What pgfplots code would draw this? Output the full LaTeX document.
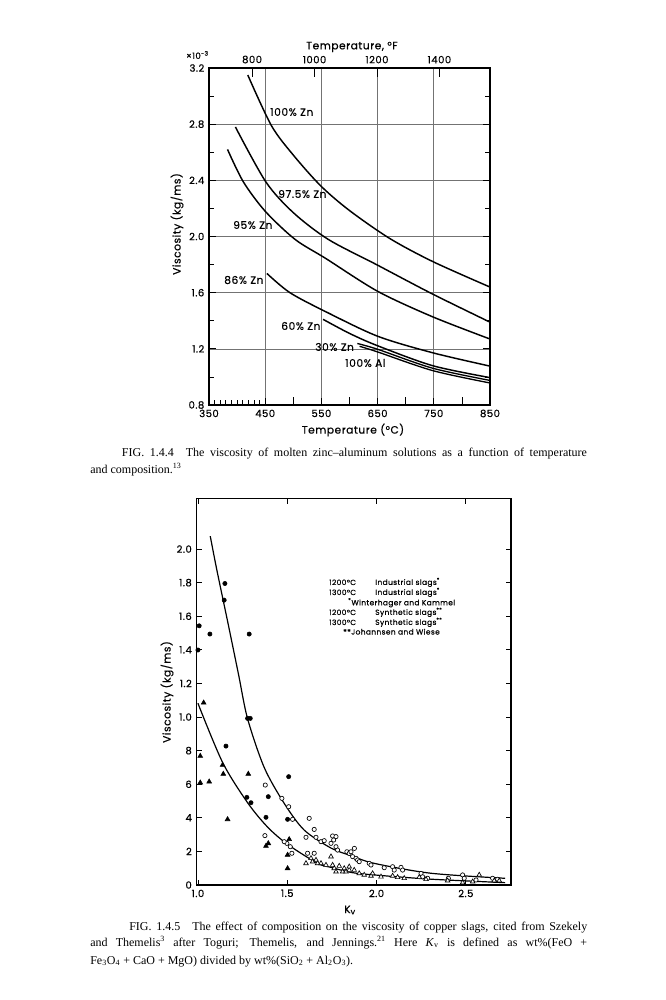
\documentclass[border=0pt]{standalone}
\usepackage{fontspec}
\setmainfont{Liberation Serif}
\newfontfamily\lab[LetterSpace=5, FakeBold=0.5]{Poppins}
\usepackage{pgfplots}
\pgfplotsset{compat=1.18}
\newcommand\tlfont{\lab\fontsize{7.5}{8.5}\selectfont}
\newcommand\clfont{\lab\fontsize{8}{9}\selectfont}
\newcommand\lgfont{\lab\fontsize{5.6}{6.5}\selectfont}
\newcommand\capfont{\fontsize{9}{11}\selectfont}
\begin{document}
\begin{tikzpicture}
\path[use as bounding box, fill=white] (0,0) rectangle (499.5pt,-750pt);

% ---------------- top chart (Celsius) ----------------
\begin{axis}[at={(156.75pt,-303.75pt)}, anchor=south west, scale only axis,
  width=210.75pt, height=252.75pt,
  xmin=350, xmax=850, ymin=0.8, ymax=3.2,
  xtick={350,450,550,650,750,850}, xticklabels={350,450,550,650,750,850},
  minor xtick={360,370,380,390,400,410,420,430,440},
  extra x ticks={500,600,700,800}, extra x tick labels={},
  extra x tick style={grid=none, major tick length=6pt},
  ytick={0.8,1.2,1.6,2.0,2.4,2.8,3.2}, yticklabels={0.8,1.2,1.6,2.0,2.4,2.8,3.2},
  minor ytick={1.0,1.4,1.8,2.2,2.6,3.0},
  xtick pos=left, ytick pos=both,
  grid=major, major grid style={black!55, line width=0.5pt},
  tick align=inside, major tick length=5pt, minor tick length=4pt,
  tick style={black, line width=0.6pt},
  axis line style={line width=0.9pt},
  xticklabel style={font=\tlfont}, yticklabel style={font=\tlfont},
]
\addplot[black, line width=1.1pt, smooth] coordinates {(419,3.15)(461,2.79)(500,2.58)(549,2.36)(600,2.185)(672,1.985)(749,1.82)(850,1.64)};
\addplot[black, line width=1.1pt, smooth] coordinates {(397,2.78)(451,2.39)(500,2.17)(562,1.98)(648,1.80)(746,1.594)(850,1.39)};
\addplot[black, line width=1.1pt, smooth] coordinates {(383,2.62)(411,2.39)(450,2.18)(503,1.98)(558,1.843)(650,1.61)(748,1.428)(850,1.27)};
\addplot[black, line width=1.1pt, smooth] coordinates {(453,1.737)(494,1.60)(558,1.464)(650,1.29)(748,1.172)(850,1.077)};
\addplot[black, line width=1.1pt, smooth] coordinates {(553,1.41)(600,1.31)(650,1.222)(748,1.08)(850,0.995)};
\addplot[black, line width=1.0pt, smooth] coordinates {(614,1.238)(650,1.197)(748,1.062)(850,0.975)};
\addplot[black, line width=1.0pt, smooth] coordinates {(618,1.218)(650,1.178)(748,1.045)(850,0.957)};
\end{axis}

% ---------------- top chart (Fahrenheit scale) ----------------
\begin{axis}[at={(156.75pt,-303.75pt)}, anchor=south west, scale only axis,
  width=210.75pt, height=252.75pt,
  xmin=662, xmax=1562, ymin=0, ymax=1,
  axis x line*=top, hide y axis,
  xtick={800,1000,1200,1400}, xticklabels={800,1000,1200,1400},
  tick align=inside, major tick length=7pt,
  tick style={black, line width=0.6pt},
  axis line style={line width=0.9pt},
  xticklabel style={font=\tlfont},
]
\addplot[draw=none] coordinates {(700,0.5)};
\end{axis}

% ---------------- bottom chart ----------------
\begin{axis}[at={(147.375pt,-663.75pt)}, anchor=south west, scale only axis,
  width=235.9pt, height=290pt,
  xmin=0.992, xmax=2.753, ymin=0, ymax=2.302,
  xtick={1,1.5,2,2.5}, xticklabels={1.0,1.5,2.0,2.5},
  ytick={0,0.2,0.4,0.6,0.8,1.0,1.2,1.4,1.6,1.8,2.0},
  yticklabels={0,2,4,6,8,1.0,1.2,1.4,1.6,1.8,2.0},
  tick align=inside, major tick length=4pt,
  tick style={black, line width=0.6pt},
  axis line style={line width=0.9pt},
  xticklabel style={font=\tlfont}, yticklabel style={font=\tlfont},
]
% curves
\addplot[black, line width=0.9pt, smooth] coordinates {(1.069,2.077)(1.106,1.875)(1.17,1.55)(1.228,1.25)(1.278,0.99)(1.371,0.70)(1.483,0.486)(1.595,0.327)(1.745,0.22)(1.857,0.175)(1.987,0.129)(2.305,0.07)(2.72,0.04)};
\addplot[black, line width=0.9pt, smooth] coordinates {(1.0,1.082)(1.138,0.73)(1.278,0.49)(1.39,0.345)(1.502,0.242)(1.67,0.129)(1.745,0.105)(1.857,0.075)(1.987,0.06)(2.3,0.035)(2.72,0.014)};
% 1200 C industrial (filled circles)
\addplot[only marks, mark=*, mark size=1.6pt, black] coordinates {
(1.151,1.795)(1.147,1.696)(1.007,1.543)(1.067,1.494)(1.287,1.494)(1.0,1.399)
(1.157,0.827)(1.278,0.992)(1.293,0.992)(1.274,0.522)(1.297,0.49)(1.381,0.403)
(1.394,0.526)(1.508,0.645)(1.502,0.391)};
% 1300 C industrial (filled triangles)
\addplot[only marks, mark=triangle*, mark size=2.1pt, black] coordinates {
(1.032,1.085)(1.013,0.768)(1.013,0.609)(1.063,0.615)(1.138,0.714)(1.142,0.661)
(1.166,0.391)(1.282,0.661)(1.381,0.232)(1.394,0.248)(1.502,0.179)(1.502,0.099)(1.511,0.272)};
% 1200 C synthetic (open circles)
\addplot[only marks, mark=*, mark size=1.6pt, black, mark options={fill=white, line width=0.5pt}] coordinates {
(1.377,0.595)(1.375,0.294)(1.53,0.391)(1.47,0.516)(1.508,0.466)(1.498,0.248)
(1.483,0.258)(1.517,0.228)(1.526,0.189)(1.623,0.397)(1.605,0.284)(1.651,0.331)
(1.661,0.284)(1.689,0.258)(1.707,0.264)(1.754,0.292)(1.773,0.288)(1.76,0.268)
(1.773,0.228)(1.782,0.208)(1.745,0.248)(1.834,0.198)(1.847,0.188)(1.857,0.198)
(1.876,0.218)(1.866,0.169)(1.885,0.159)(1.894,0.149)(1.903,0.139)(1.959,0.129)
(1.969,0.119)(2.043,0.103)(2.09,0.109)(2.137,0.105)(2.146,0.089)(2.099,0.089)
(2.249,0.069)(2.258,0.049)(2.286,0.040)(2.482,0.060)(2.491,0.040)(2.65,0.040)
(2.678,0.034)(2.402,0.040)(2.557,0.03)(1.614,0.189)(1.651,0.189)};
% 1300 C synthetic (open triangles)
\addplot[only marks, mark=triangle*, mark size=2.0pt, black, mark options={fill=white, line width=0.5pt}] coordinates {
(1.605,0.129)(1.642,0.139)(1.67,0.129)(1.689,0.129)(1.717,0.119)(1.633,0.159)
(1.661,0.149)(1.745,0.169)(1.754,0.119)(1.763,0.099)(1.773,0.079)(1.810,0.079)
(1.829,0.079)(1.847,0.089)(1.791,0.113)(1.819,0.099)(1.847,0.109)(1.875,0.089)
(1.903,0.069)(1.931,0.06)(1.969,0.054)(1.978,0.069)(2.025,0.049)(2.09,0.054)
(2.118,0.046)(2.155,0.04)(2.239,0.046)(2.277,0.034)(2.398,0.026)(2.482,0.014)
(2.538,0.02)(2.659,0.026)(2.687,0.026)(2.575,0.06)};
\end{axis}

% ---------------- texts (pixel coordinates, y downwards) ----------------
\begin{scope}[x=0.75pt, y=-0.75pt]
% top chart
\node[font=\clfont] at (352,47) {Temperature, °F};
\node[font=\lab\fontsize{6.5}{7}\selectfont, anchor=east, inner sep=0] at (209,55) {×10\textsuperscript{−3}};
\node[font=\clfont] at (353,430) {Temperature (°C)};
\node[font=\clfont, rotate=90] at (177,224) {Viscosity (kg/ms)};
\node[font=\clfont, anchor=west, inner sep=0] at (270,112) {100\% Zn};
\node[font=\clfont, anchor=west, inner sep=0] at (278,194) {97.5\% Zn};
\node[font=\clfont, anchor=west, inner sep=0] at (233,225) {95\% Zn};
\node[font=\clfont, anchor=west, inner sep=0] at (224,280) {86\% Zn};
\node[font=\clfont, anchor=west, inner sep=0] at (281,326) {60\% Zn};
\node[font=\clfont, anchor=west, inner sep=0] at (315,347) {30\% Zn};
\node[font=\clfont, anchor=west, inner sep=0] at (345,363) {100\% Al};
% caption 1
\node[font=\capfont, anchor=base west, inner sep=0] at (121.7,456.5) {\makebox[348.75pt][s]{FIG. 1.4.4\quad The viscosity of molten zinc--aluminum solutions as a function of temperature}};
\node[font=\capfont, anchor=base west, inner sep=0] at (90,473.5) {and composition.\textsuperscript{13}};
% bottom chart
\node[font=\clfont, rotate=90] at (167,692) {Viscosity (kg/ms)};
\node[font=\clfont] at (350,910) {K\textsubscript{v}};
\node[font=\lgfont, anchor=west, inner sep=0] at (329,582.3) {1200°C};
\node[font=\lgfont, anchor=west, inner sep=0] at (375,582.3) {Industrial slags\textsuperscript{*}};
\node[font=\lgfont, anchor=west, inner sep=0] at (329,592.3) {1300°C};
\node[font=\lgfont, anchor=west, inner sep=0] at (375,592.3) {Industrial slags\textsuperscript{*}};
\node[font=\lgfont, anchor=west, inner sep=0] at (348,602.7) {\textsuperscript{*}Winterhager and Kammel};
\node[font=\lgfont, anchor=west, inner sep=0] at (329,612.3) {1200°C};
\node[font=\lgfont, anchor=west, inner sep=0] at (375,612.3) {Synthetic slags\textsuperscript{**}};
\node[font=\lgfont, anchor=west, inner sep=0] at (329,622.3) {1300°C};
\node[font=\lgfont, anchor=west, inner sep=0] at (375,622.3) {Synthetic slags\textsuperscript{**}};
\node[font=\lgfont, anchor=west, inner sep=0] at (343,631.7) {**Johannsen and Wiese};
% caption 2
\node[font=\capfont, anchor=base west, inner sep=0] at (129,930) {\makebox[343.5pt][s]{FIG. 1.4.5\quad The effect of composition on the viscosity of copper slags, cited from Szekely}};
\node[font=\capfont, anchor=base west, inner sep=0] at (90,946.5) {\makebox[372.75pt][s]{and Themelis\textsuperscript{3} after Toguri; Themelis, and Jennings.\textsuperscript{21} Here \textit{K}\textsubscript{v} is defined as wt\%(FeO +}};
\node[font=\capfont, anchor=base west, inner sep=0] at (90,964) {Fe\textsubscript{3}O\textsubscript{4} + CaO + MgO) divided by wt\%(SiO\textsubscript{2} + Al\textsubscript{2}O\textsubscript{3}).};
\end{scope}
\end{tikzpicture}
\end{document}
